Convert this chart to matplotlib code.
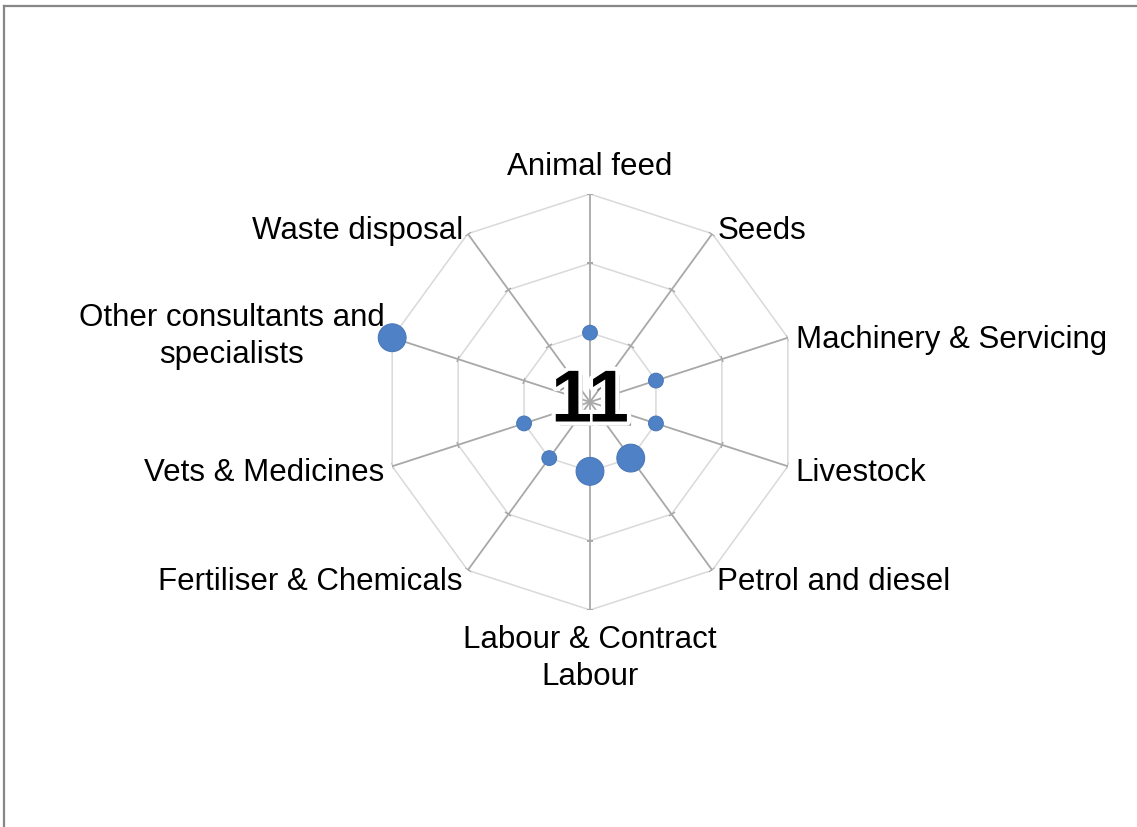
import numpy as np
import matplotlib
matplotlib.use("Agg")
import matplotlib.pyplot as plt
import matplotlib.patheffects as pe
from matplotlib.lines import Line2D
from matplotlib.markers import MarkerStyle
from matplotlib.transforms import Affine2D

plt.rcParams['font.family'] = ['Liberation Sans', 'DejaVu Sans']

categories = ['Animal feed', 'Seeds', 'Machinery & Servicing', 'Livestock',
              'Petrol and diesel', 'Labour & Contract\nLabour', 'Fertiliser & Chemicals',
              'Vets & Medicines', 'Other consultants and\nspecialists', 'Waste disposal']
values = [1, np.nan, 1, 1, 1, 1, 1, 1, 3, np.nan]
emphasis = [1, 0, 1, 1, 2, 2, 1, 1, 2, 0]
ring_levels = [1, 2, 3]
centre_label = '11'

n = len(categories)
angles = np.linspace(0, 2 * np.pi, n, endpoint=False)
rmax = ring_levels[-1]

fig = plt.figure(figsize=(11.37, 8.28), dpi=100)
cx, cy = 590 / 1137, 1 - 403 / 828
w, h = 416 / 1137, 416 / 828
ax = fig.add_axes([cx - w / 2, cy - h / 2, w, h], polar=True)
ax.set_theta_offset(np.pi / 2)
ax.set_theta_direction(-1)
ax.set_ylim(0, rmax)
ax.axis('off')

# decagon rings
closed = np.append(angles, angles[0])
for lev in ring_levels:
    ax.plot(closed, [lev] * (n + 1), color='#d9d9d9', lw=1.1, zorder=1)

# spokes with small tick marks
for a in angles:
    ax.plot([a, a], [0, rmax], color='#a8a8a8', lw=1.3, zorder=2)
    rot = 90 - np.degrees(a)
    m = MarkerStyle('|', transform=Affine2D().rotate_deg(rot))
    ax.plot([a] * len(ring_levels), ring_levels, ls='none', marker=m,
            ms=5, mec='#a8a8a8', mew=1.1, zorder=2)

# points
sizes = [0 if e == 0 else (112 if e == 1 else 400) for e in emphasis]
ax.scatter(angles, values, s=sizes, color='#4f81c7', edgecolors='#4a78b8',
           linewidths=0.8, zorder=4, clip_on=False)

# category labels
fs = 22.5
for a, lab in zip(angles, categories):
    deg = np.degrees(a) % 360
    if np.isclose(deg, 0):
        ax.text(a, 3.19, lab, ha='center', va='bottom', fontsize=fs, zorder=5)
    elif np.isclose(deg, 180):
        ax.text(a, 3.2, lab, ha='center', va='top', fontsize=fs,
                multialignment='center', linespacing=1.3, zorder=5)
    else:
        ha = 'left' if deg < 180 else 'right'
        va = 'center' if '\n' in lab else 'center_baseline'
        ax.text(a, 3.12, lab, ha=ha, va=va, fontsize=fs,
                multialignment='center', linespacing=1.3, zorder=5)

# centre number
ax.text(0, 0, centre_label, ha='center', va='center', fontsize=53,
        fontweight='bold', color='black', zorder=6,
        path_effects=[pe.withSimplePatchShadow(offset=(3, -3), shadow_rgbFace='#606060', alpha=0.7),
                      pe.Stroke(linewidth=6, foreground='white'),
                      pe.Normal()])

# chart frame (top and left edges)
fig.add_artist(Line2D([4 / 1137, 1], [1 - 7 / 828] * 2, color='#878787', lw=1.6,
                      transform=fig.transFigure))
fig.add_artist(Line2D([4 / 1137] * 2, [0, 1 - 7 / 828], color='#878787', lw=1.6,
                      transform=fig.transFigure))

fig.savefig('out.png', dpi=100, facecolor='white')
